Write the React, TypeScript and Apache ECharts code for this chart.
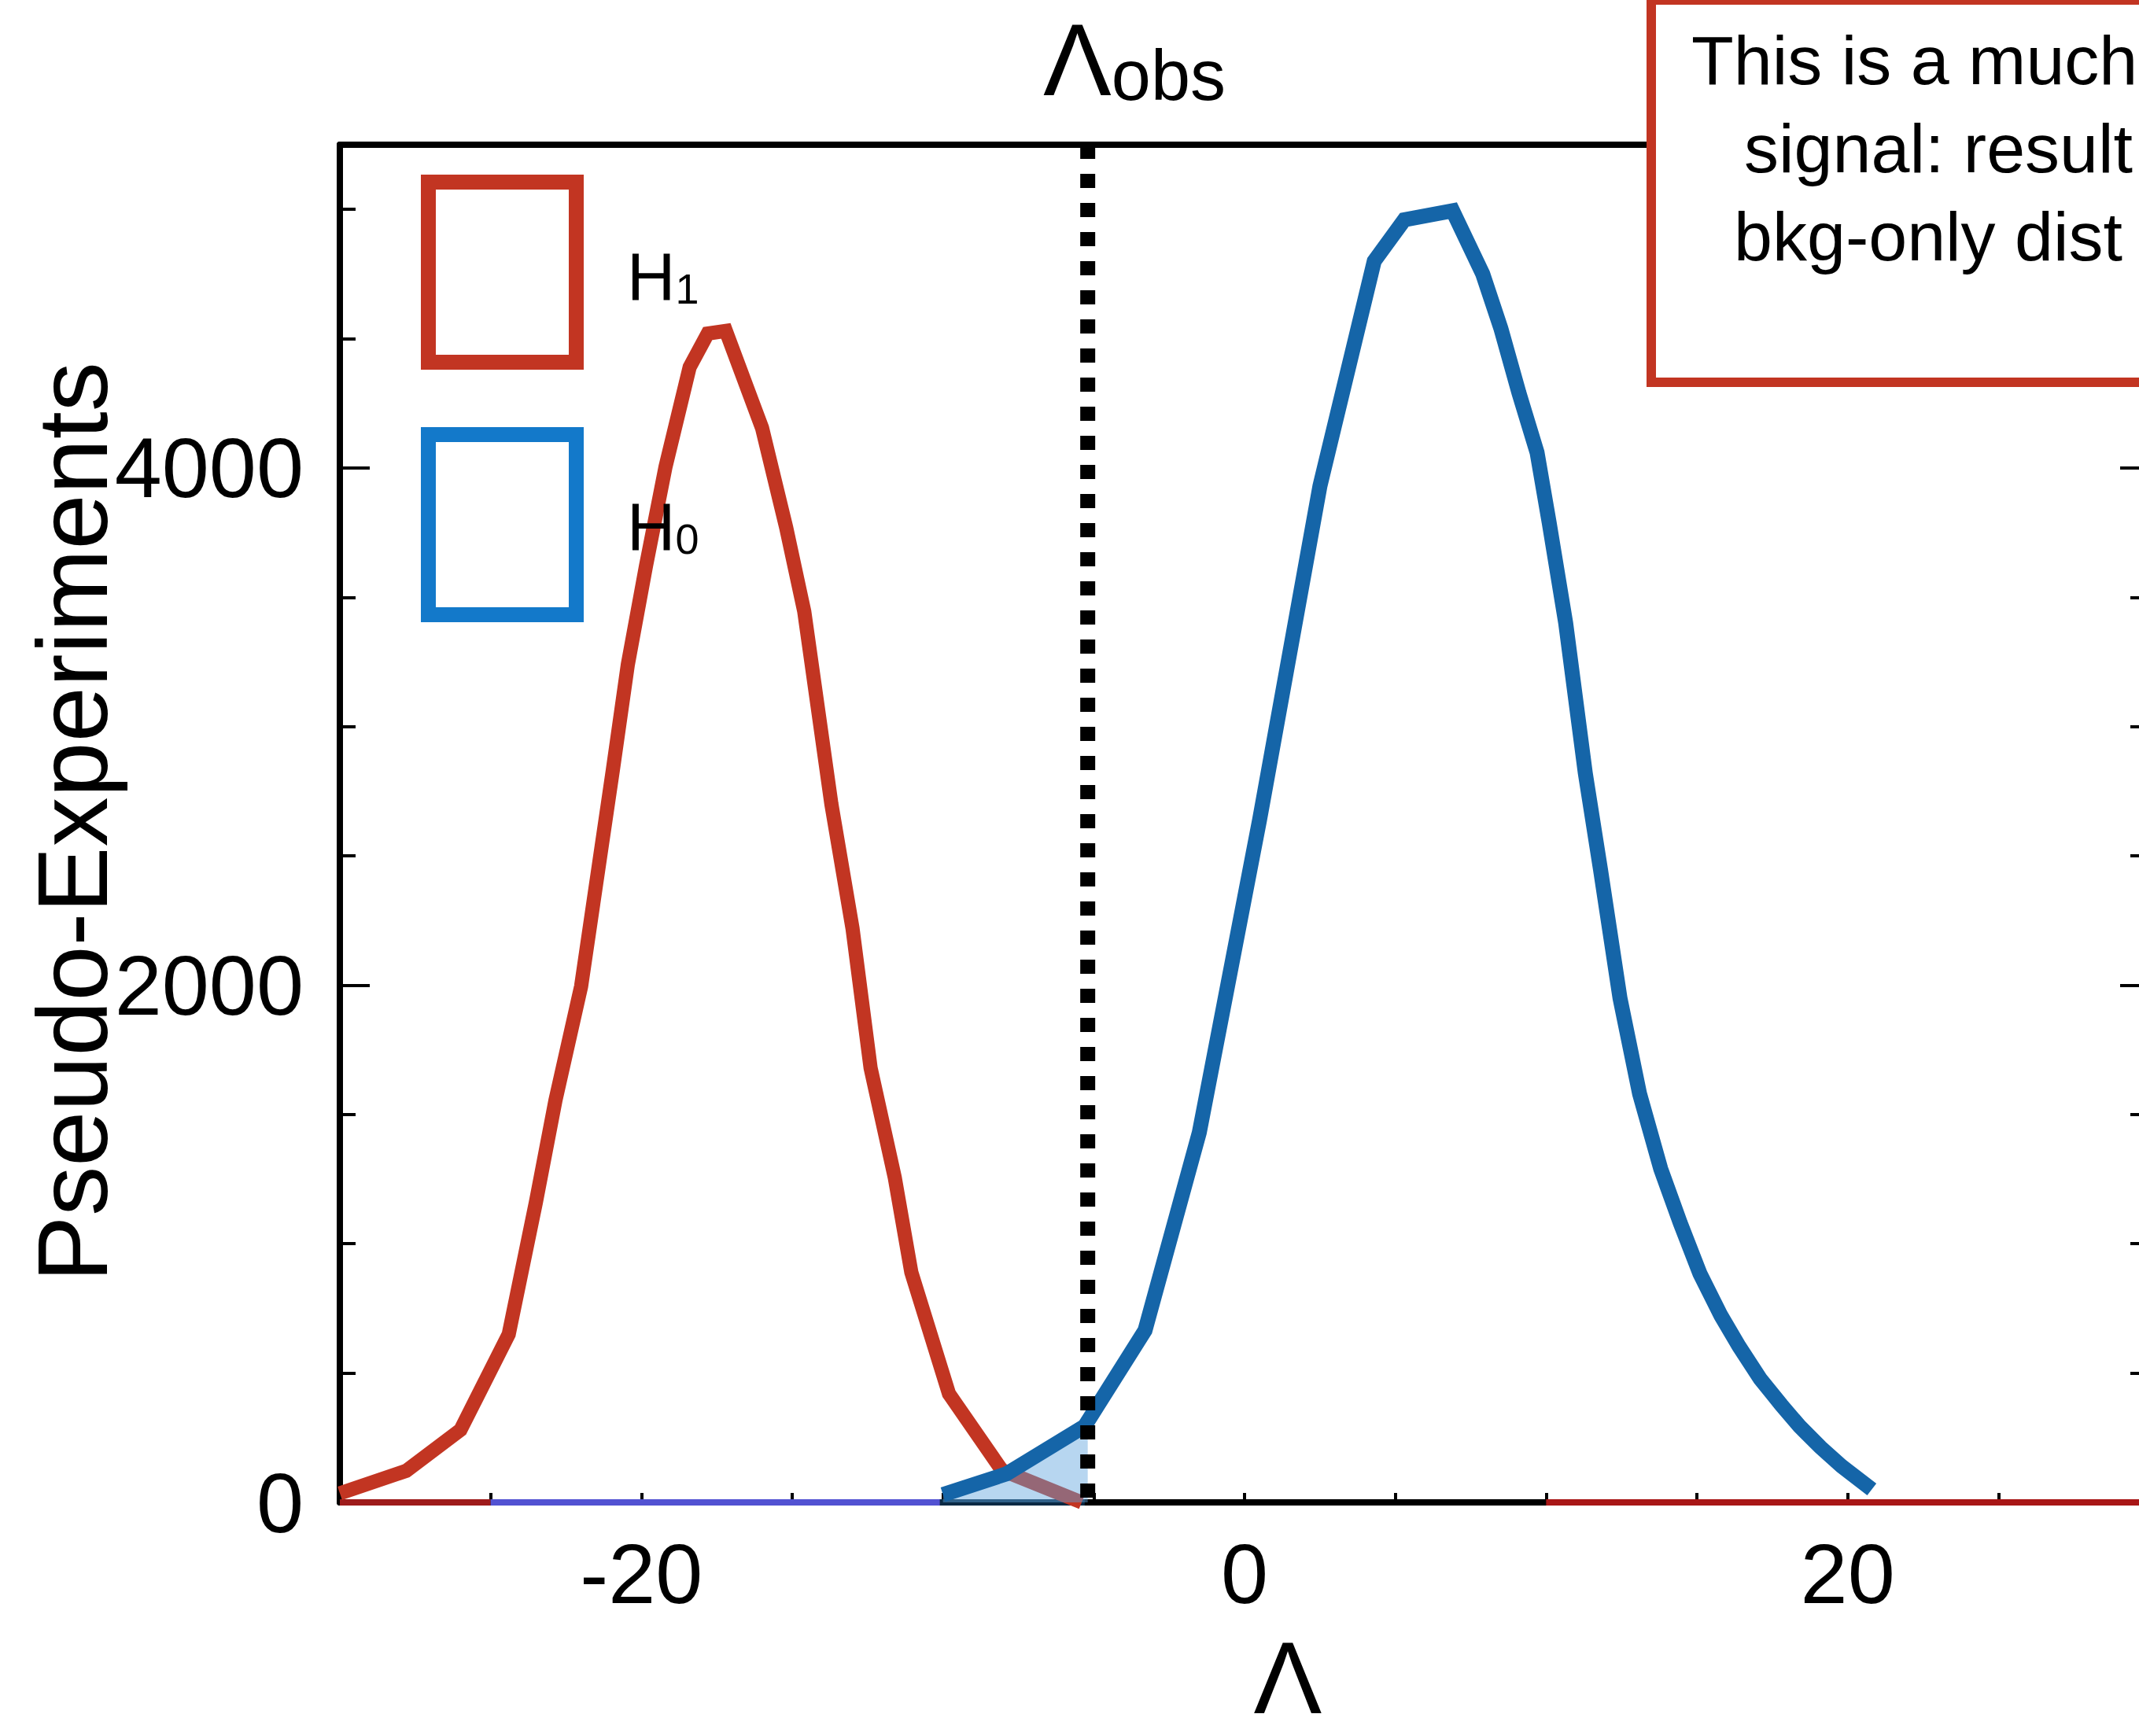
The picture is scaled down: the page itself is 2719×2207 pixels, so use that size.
import React, { useEffect, useRef } from 'react';
import * as echarts from 'echarts';

// ---- data ----
const xMin = -30;
const xMax = 30;
const xTickStep = 5;
const xLabelValues = [-20, 0, 20];
const yMin = 0;
const yMax = 5250;
const yMinorStep = 500;
const yMajorStep = 2000;

// H1 (signal + background) pseudo-experiment distribution
const h1X = [-30, -27.8, -26.0, -24.4, -23.5, -22.85, -22.0, -20.95, -20.45, -19.85, -19.2, -18.4, -17.8, -17.2, -16.0, -15.2, -14.6, -13.7, -13.0, -12.4, -11.6, -11.05, -9.8, -8.05, -5.4];
const h1Y = [35, 122, 280, 650, 1160, 1555, 1995, 2830, 3240, 3620, 4005, 4390, 4520, 4530, 4155, 3770, 3445, 2700, 2220, 1680, 1257, 890, 420, 125, 0];

// H0 (background-only) pseudo-experiment distribution
const h0X = [-10.0, -7.9, -5.3, -3.3, -1.5, 0.5, 2.5, 4.3, 5.3, 6.9, 7.9, 8.5, 9.1, 9.7, 10.1, 10.65, 11.3, 11.8, 12.45, 13.1, 13.8, 14.45, 15.1, 15.8, 16.4, 17.1, 17.8, 18.4, 19.1, 19.8, 20.8];
const h0Y = [30, 110, 295, 665, 1430, 2640, 3930, 4800, 4960, 4995, 4750, 4540, 4290, 4060, 3790, 3400, 2820, 2450, 1950, 1580, 1290, 1080, 885, 722, 603, 478, 377, 295, 213, 140, 50];

// shaded tail of H0 up to the observed value
const shadeX = [-10.0, -7.9, -5.2];
const shadeY = [30, 110, 300];

// observed test statistic
const lambdaObs = -5.2;

// coloured baseline pieces lying on the x axis
const baseStart = [-30, -25, -10.1, 10.0];
const baseEnd = [-25, -10.1, -5.3, 30];
const baseColor = ['#9e1b1b', '#5252d2', '#0a2a44', '#a81616'];

// texts
const yAxisTitle = 'Pseudo-Experiments';
const xAxisTitle = 'Λ';
const noteLines = ['This is a much', 'signal: result', 'bkg-only dist'];

const RED = '#c23522';
const BLUE = '#1565a8';
const BLUE_LEGEND = '#1379ca';
const FONT = '"Liberation Sans", Arial, Helvetica, sans-serif';

export default function App() {
  const ref = useRef<HTMLDivElement>(null);

  useEffect(() => {
    if (!ref.current) return;
    const chart = echarts.init(ref.current, null, { renderer: 'svg' });

    const yAxisBase = {
      type: 'value',
      min: yMin,
      max: yMax,
      splitLine: { show: false },
    };

    const baselineSeries = baseStart.map((s, i) => ({
      type: 'line',
      data: [[s, 0], [baseEnd[i], 0]],
      symbol: 'none',
      silent: true,
      lineStyle: { color: baseColor[i], width: 8 },
      z: 2,
    }));

    const option: any = {
      animation: false,
      backgroundColor: '#ffffff',
      grid: {
        left: 432,
        top: 184,
        width: 2300,
        height: 1726,
        containLabel: false,
        outerBoundsMode: 'none',
      },
      xAxis: [
        {
          type: 'value',
          min: xMin,
          max: xMax,
          interval: xTickStep,
          position: 'bottom',
          axisLine: { show: true, onZero: false, lineStyle: { color: '#000', width: 8 } },
          axisTick: { show: true, inside: true, length: 12, lineStyle: { color: '#000', width: 4 } },
          axisLabel: {
            show: true,
            margin: 36,
            fontSize: 108,
            fontFamily: FONT,
            color: '#000',
            formatter: (v: number) => (xLabelValues.includes(v) ? String(v) : ''),
          },
          splitLine: { show: false },
        },
        {
          type: 'value',
          min: xMin,
          max: xMax,
          position: 'top',
          axisLine: { show: true, onZero: false, lineStyle: { color: '#000', width: 8 } },
          axisTick: { show: false },
          axisLabel: { show: false },
          splitLine: { show: false },
        },
      ],
      yAxis: [
        {
          ...yAxisBase,
          interval: yMinorStep,
          position: 'left',
          axisLine: { show: true, onZero: false, lineStyle: { color: '#000', width: 8 } },
          axisTick: { show: true, inside: true, length: 20, lineStyle: { color: '#000', width: 4 } },
          axisLabel: {
            show: true,
            margin: 46,
            fontSize: 108,
            fontFamily: FONT,
            color: '#000',
            formatter: (v: number) => (v % yMajorStep === 0 ? String(v) : ''),
          },
        },
        {
          ...yAxisBase,
          interval: yMajorStep,
          position: 'left',
          axisLine: { show: false, onZero: false },
          axisTick: { show: true, inside: true, length: 38, lineStyle: { color: '#000', width: 4 } },
          axisLabel: { show: false },
        },
        {
          ...yAxisBase,
          interval: yMinorStep,
          position: 'right',
          axisLine: { show: false, onZero: false },
          axisTick: { show: true, inside: true, length: 24, lineStyle: { color: '#000', width: 4 } },
          axisLabel: { show: false },
        },
        {
          ...yAxisBase,
          interval: yMajorStep,
          position: 'right',
          axisLine: { show: false, onZero: false },
          axisTick: { show: true, inside: true, length: 37, lineStyle: { color: '#000', width: 4 } },
          axisLabel: { show: false },
        },
      ],
      series: [
        ...baselineSeries,
        {
          name: 'H1',
          type: 'line',
          data: h1X.map((x, i) => [x, h1Y[i]]),
          symbol: 'none',
          lineStyle: { color: RED, width: 18, join: 'miter' },
          z: 3,
        },
        {
          name: 'shade',
          type: 'line',
          data: shadeX.map((x, i) => [x, shadeY[i]]),
          symbol: 'none',
          lineStyle: { width: 0, opacity: 0 },
          areaStyle: { color: 'rgba(95,165,222,0.45)', opacity: 1 },
          z: 4,
        },
        {
          name: 'H0',
          type: 'line',
          data: h0X.map((x, i) => [x, h0Y[i]]),
          symbol: 'none',
          lineStyle: { color: BLUE, width: 19, join: 'miter' },
          z: 5,
        },
        {
          name: 'obs',
          type: 'line',
          data: [[lambdaObs, yMax], [lambdaObs, yMin]],
          symbol: 'none',
          lineStyle: { color: '#000', width: 19, type: [18, 19], cap: 'butt' },
          z: 6,
        },
      ],
      graphic: [
        // legend boxes
        {
          type: 'rect',
          shape: { x: 544.5, y: 231.5, width: 188, height: 229 },
          style: { fill: 'none', stroke: RED, lineWidth: 19 },
          z: 50,
        },
        {
          type: 'rect',
          shape: { x: 544.5, y: 552.5, width: 188, height: 229 },
          style: { fill: 'none', stroke: BLUE_LEGEND, lineWidth: 19 },
          z: 50,
        },
        {
          type: 'text',
          x: 797,
          y: 351,
          z: 50,
          style: {
            text: '{h|H}{s|1}',
            align: 'left',
            verticalAlign: 'middle',
            rich: {
              h: { fontSize: 85, lineHeight: 85, fontFamily: FONT, fill: '#000', verticalAlign: 'bottom' },
              s: { fontSize: 54, lineHeight: 54, fontFamily: FONT, fill: '#000', verticalAlign: 'bottom' },
            },
          },
        },
        {
          type: 'text',
          x: 797,
          y: 669,
          z: 50,
          style: {
            text: '{h|H}{s|0}',
            align: 'left',
            verticalAlign: 'middle',
            rich: {
              h: { fontSize: 85, lineHeight: 85, fontFamily: FONT, fill: '#000', verticalAlign: 'bottom' },
              s: { fontSize: 54, lineHeight: 54, fontFamily: FONT, fill: '#000', verticalAlign: 'bottom' },
            },
          },
        },
        // Λobs label
        {
          type: 'text',
          x: 1326,
          y: 76,
          z: 50,
          style: {
            text: '{a|Λ}{b|obs}',
            align: 'left',
            verticalAlign: 'middle',
            rich: {
              a: { fontSize: 130, lineHeight: 130, fontFamily: FONT, fill: '#000', verticalAlign: 'bottom' },
              b: { fontSize: 90, lineHeight: 90, fontFamily: FONT, fill: '#000', verticalAlign: 'bottom' },
            },
          },
        },
        // x-axis title
        {
          type: 'text',
          x: 1637,
          y: 2133,
          z: 50,
          style: {
            text: xAxisTitle,
            fontSize: 130,
            fontFamily: FONT,
            fill: '#000',
            align: 'center',
            verticalAlign: 'middle',
          },
        },
        // y-axis title
        {
          type: 'text',
          x: 92,
          y: 1045,
          rotation: Math.PI / 2,
          z: 50,
          style: {
            text: yAxisTitle,
            fontSize: 126,
            fontFamily: FONT,
            fill: '#000',
            align: 'center',
            verticalAlign: 'middle',
          },
        },
        // annotation box
        {
          type: 'rect',
          shape: { x: 2099, y: 0, width: 700, height: 486 },
          style: { fill: '#ffffff', stroke: RED, lineWidth: 12 },
          z: 100,
        },
        ...noteLines.map((t, i) => ({
          type: 'text',
          x: [2150, 2217, 2204][i],
          y: 76 + i * 112,
          z: 101,
          style: {
            text: t,
            fontSize: 88,
            fontFamily: FONT,
            fill: '#000',
            align: 'left',
            verticalAlign: 'middle',
          },
        })),
      ],
    };

    chart.setOption(option);
    return () => {
      chart.dispose();
    };
  }, []);

  return (
    <div
      ref={ref}
      style={{ position: 'fixed', left: 0, top: 0, width: 2719, height: 2207, background: '#fff' }}
    />
  );
}
